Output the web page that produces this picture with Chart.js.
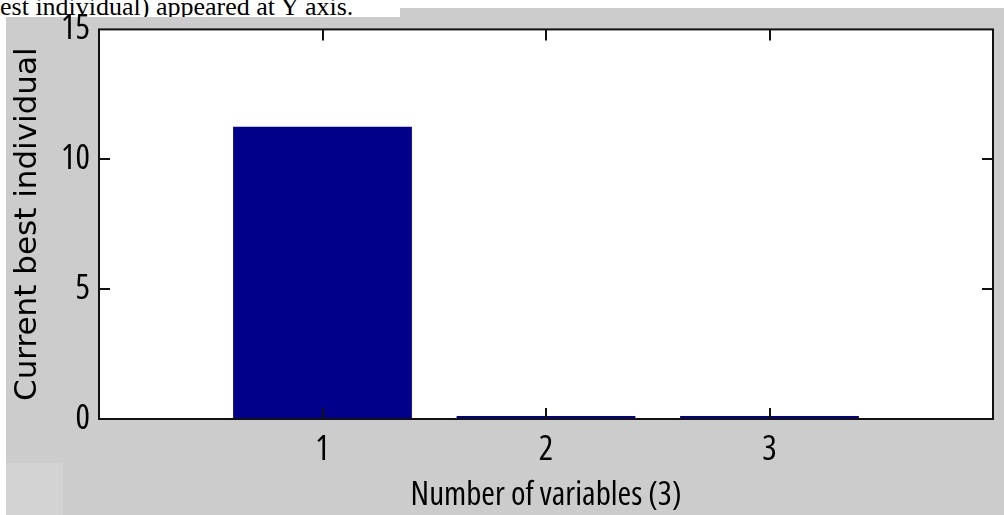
<!DOCTYPE html>
<html>
<head>
<meta charset="utf-8">
<script src="https://cdn.jsdelivr.net/npm/chart.js@4.4.1/dist/chart.umd.min.js"></script>
<style>
  body { margin: 0; background: #fff; }
  #page { position: relative; width: 1004px; height: 515px; overflow: hidden; background: #fff; }
  #panel { position: absolute; left: 6px; top: 8px; right: 0; bottom: 0; background: #cccccc; }
  #patch { position: absolute; left: 6px; top: 463px; width: 57px; height: 52px; background: #d3d3d3; }
  #caption { position: absolute; left: 0; top: 0; width: 400px; height: 17px; background: #fff; overflow: hidden; }
  #caption span { position: absolute; left: 0; top: -6px; font: 26px/26px 'Liberation Serif', 'Times New Roman', serif; color: #000; white-space: nowrap; }
  #holder { position: absolute; left: 0; top: 0; width: 1004px; height: 515px; }
</style>
</head>
<body>
<div id="page">
  <div id="panel"></div>
  <div id="patch"></div>
  <div id="caption"><span>est individual) appeared at Y axis.</span></div>
  <div id="holder"><canvas id="chart"></canvas></div>
</div>
<script>
const categories = [1, 2, 3];
const bestValues = [11.25, 0.12, 0.12];
const yTicks = [0, 5, 10, 15];

const TICK_LEN = 11;

// the axis text is a narrow face; take the installed one whose width is closest
function pickNarrowFont() {
  const ctx = document.createElement('canvas').getContext('2d');
  const sample = 'Number of variables (3)';
  const target = 8.5; // em width of the sample in the picture
  const candidates = [
    { weight: undefined, family: "'Liberation Sans Narrow'" },
    { weight: undefined, family: "'Arial Narrow'" },
    { weight: undefined, family: "'DejaVu Sans Condensed'" },
    { weight: undefined, family: "'Noto Sans Condensed'" },
    { weight: 'condensed', family: "'Liberation Sans'" },
    { weight: 'condensed', family: "'Noto Sans'" },
    { weight: 'condensed', family: "'Open Sans'" },
    { weight: 'condensed', family: "'DejaVu Sans'" },
    { weight: 'condensed', family: 'Roboto' },
    { weight: undefined, family: "'Liberation Sans'" },
  ];
  let best = candidates[candidates.length - 1];
  let bestDiff = Infinity;
  candidates.forEach((c) => {
    ctx.font = '10px serif';
    const spec = (c.weight ? c.weight + ' ' : '') + '100px ' + c.family + ', monospace';
    ctx.font = spec;
    if (ctx.font === '10px serif') return;
    const em = ctx.measureText(sample).width / 100;
    const diff = Math.abs(em - target);
    if (diff < bestDiff) {
      bestDiff = diff;
      best = c;
    }
  });
  return best;
}

const narrow = pickNarrowFont();
Chart.defaults.color = '#000';

// white plot area, then the box and the inward ticks on top of the bars
const axesBox = {
  id: 'axesBox',
  beforeDraw(chart) {
    const { ctx, chartArea: a } = chart;
    ctx.save();
    ctx.fillStyle = '#fff';
    ctx.fillRect(a.left, a.top, a.right - a.left, a.bottom - a.top);
    ctx.restore();
  },
  afterDatasetsDraw(chart) {
    const { ctx, chartArea: a, scales: { x, y } } = chart;
    ctx.save();
    ctx.strokeStyle = '#111';
    ctx.lineWidth = 2;
    ctx.strokeRect(a.left, a.top, a.right - a.left, a.bottom - a.top);
    ctx.beginPath();
    categories.forEach((c) => {
      const px = Math.round(x.getPixelForValue(c));
      ctx.moveTo(px, a.bottom);
      ctx.lineTo(px, a.bottom - TICK_LEN);
      ctx.moveTo(px, a.top);
      ctx.lineTo(px, a.top + TICK_LEN);
    });
    yTicks.slice(1, -1).forEach((v) => {
      const py = Math.round(y.getPixelForValue(v));
      ctx.moveTo(a.left, py);
      ctx.lineTo(a.left + TICK_LEN, py);
      ctx.moveTo(a.right, py);
      ctx.lineTo(a.right - TICK_LEN, py);
    });
    ctx.stroke();
    ctx.restore();
  },
};

new Chart(document.getElementById('chart'), {
  type: 'bar',
  data: {
    datasets: [
      {
        data: categories.map((c, i) => ({ x: c, y: bestValues[i] })),
        backgroundColor: '#00008b',
        borderWidth: 0,
        barPercentage: 0.8,
        categoryPercentage: 1,
      },
    ],
  },
  options: {
    responsive: true,
    maintainAspectRatio: false,
    animation: false,
    layout: { padding: { top: 29, right: 9, bottom: 0, left: 0 } },
    plugins: {
      legend: { display: false },
      tooltip: { enabled: false },
    },
    scales: {
      x: {
        type: 'linear',
        min: 0,
        max: 4,
        offset: false,
        grid: { display: false, drawTicks: false },
        border: { display: false },
        ticks: {
          stepSize: 1,
          padding: 11,
          font: { family: narrow.family, weight: narrow.weight, size: 34 },
          callback: (v) => (categories.includes(v) ? String(v) : ''),
        },
        title: {
          display: true,
          text: 'Number of variables (3)',
          font: { family: narrow.family, weight: narrow.weight, size: 33, lineHeight: 1 },
          padding: { top: 0, bottom: 3 },
        },
        afterFit: (scale) => {
          scale.height = 96;
        },
      },
      y: {
        min: 0,
        max: 15,
        grid: { display: false, drawTicks: false },
        border: { display: false },
        ticks: {
          stepSize: 5,
          padding: 9,
          font: { family: narrow.family, weight: narrow.weight, size: 34 },
        },
        title: {
          display: true,
          text: 'Current best individual',
          font: { family: "'DejaVu Sans', sans-serif", size: 31, lineHeight: 1 },
          padding: { top: 12, bottom: 0 },
        },
        afterFit: (scale) => {
          scale.width = 99;
        },
      },
    },
  },
  plugins: [axesBox],
});
</script>
</body>
</html>
